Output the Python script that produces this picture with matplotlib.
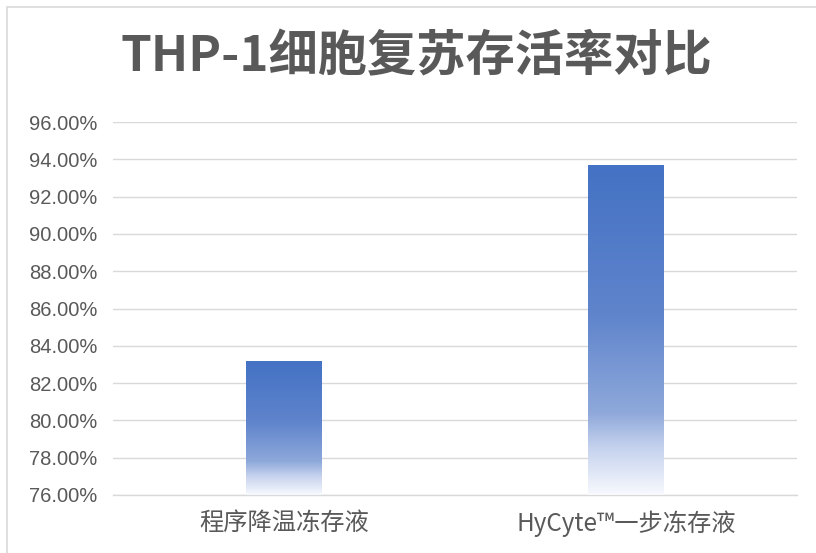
import numpy as np
import matplotlib
matplotlib.use("Agg")
import matplotlib.pyplot as plt
from matplotlib.colors import LinearSegmentedColormap
from matplotlib.patches import Rectangle

categories = ["程序降温冻存液", "HyCyte™一步冻存液"]
values = [83.18, 93.65]
yticks = [76, 78, 80, 82, 84, 86, 88, 90, 92, 94, 96]
title = "THP-1细胞复苏存活率对比"

plt.rcParams['font.family'] = ['Noto Sans CJK SC', 'DejaVu Sans']
txt = '#595959'
grid = '#d9d9d9'

fig = plt.figure(figsize=(8.16, 5.53), dpi=100)
ax = fig.add_axes([113/816, 1-495/553, 684/816, 373/553])

x = np.arange(len(categories))
bars = ax.bar(x, [v - yticks[0] for v in values], bottom=yticks[0], width=0.22,
              facecolor='none', edgecolor='none', zorder=3)

cmap = LinearSegmentedColormap.from_list('g', [
    (0.0, '#4472C4'), (0.45, '#5f84cc'), (0.75, '#8ea8da'),
    (0.86, '#c6d3ee'), (1.0, '#f7f9fd')])
grad = np.linspace(0, 1, 256).reshape(-1, 1)
for b in bars:
    x0, y0 = b.get_x(), b.get_y()
    ax.imshow(grad, cmap=cmap, aspect='auto', origin='upper',
              extent=[x0, x0 + b.get_width(), y0, y0 + b.get_height()],
              zorder=3, interpolation='bilinear')

ax.set_xlim(-0.5, 1.5)
ax.set_ylim(yticks[0], yticks[-1])
ax.set_yticks(yticks)
ax.set_yticklabels([f"{t:.2f}%" for t in yticks])
ax.set_xticks(x)
ax.set_xticklabels(categories)
ax.grid(axis='y', color=grid, linewidth=1.0, zorder=0)
ax.set_axisbelow(True)
for s in ['top', 'right', 'left']:
    ax.spines[s].set_visible(False)
ax.spines['bottom'].set_color(grid)
ax.spines['bottom'].set_linewidth(1.0)
ax.tick_params(axis='y', length=0, pad=11, labelsize=14.5, labelcolor=txt)
ax.tick_params(axis='x', length=0, pad=11, labelsize=17.5, labelcolor=txt)
for lab in ax.get_yticklabels():
    lab.set_fontfamily(['Liberation Sans', 'DejaVu Sans'])

fig.text(416/816, 1-57/553, title, ha='center', va='center', fontsize=35.5,
         fontweight='bold', color=txt)

fig.patches.append(Rectangle((7/816, -0.05), 1.1, 1 - 7/553 + 0.05,
                             transform=fig.transFigure, fill=False,
                             edgecolor=grid, linewidth=1.2))

fig.savefig('out.png', dpi=100, facecolor='white')
